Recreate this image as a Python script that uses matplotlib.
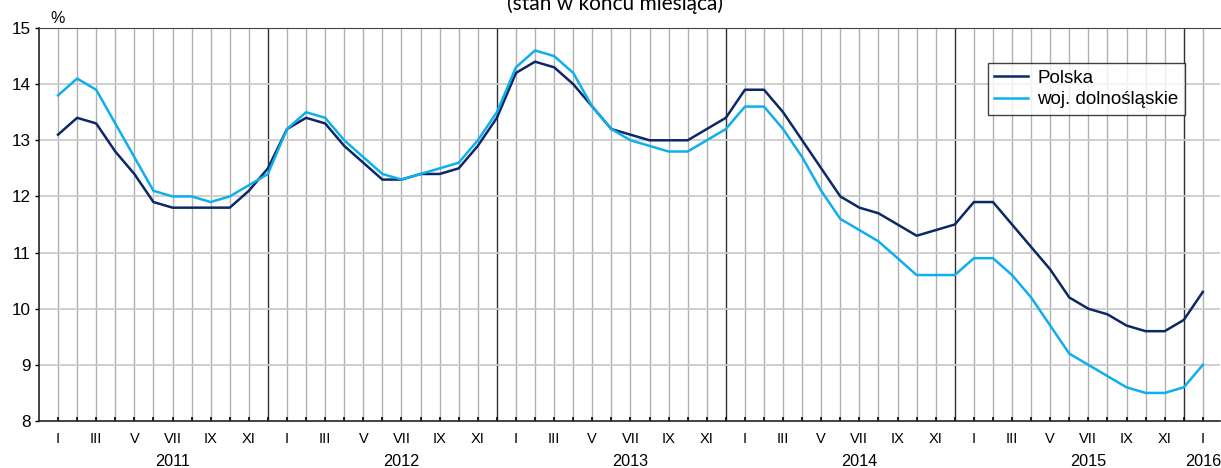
import numpy as np
import matplotlib.pyplot as plt
from matplotlib.transforms import blended_transform_factory

plt.rcParams['font.family'] = ['Liberation Sans', 'DejaVu Sans']

# monthly values, I 2011 - I 2016
polska = [13.1, 13.4, 13.3, 12.8, 12.4, 11.9, 11.8, 11.8, 11.8, 11.8, 12.1, 12.5,
          13.2, 13.4, 13.3, 12.9, 12.6, 12.3, 12.3, 12.4, 12.4, 12.5, 12.9, 13.4,
          14.2, 14.4, 14.3, 14.0, 13.6, 13.2, 13.1, 13.0, 13.0, 13.0, 13.2, 13.4,
          13.9, 13.9, 13.5, 13.0, 12.5, 12.0, 11.8, 11.7, 11.5, 11.3, 11.4, 11.5,
          11.9, 11.9, 11.5, 11.1, 10.7, 10.2, 10.0, 9.9, 9.7, 9.6, 9.6, 9.8,
          10.3]
dolnoslaskie = [13.8, 14.1, 13.9, 13.3, 12.7, 12.1, 12.0, 12.0, 11.9, 12.0, 12.2, 12.4,
                13.2, 13.5, 13.4, 13.0, 12.7, 12.4, 12.3, 12.4, 12.5, 12.6, 13.0, 13.5,
                14.3, 14.6, 14.5, 14.2, 13.6, 13.2, 13.0, 12.9, 12.8, 12.8, 13.0, 13.2,
                13.6, 13.6, 13.2, 12.7, 12.1, 11.6, 11.4, 11.2, 10.9, 10.6, 10.6, 10.6,
                10.9, 10.9, 10.6, 10.2, 9.7, 9.2, 9.0, 8.8, 8.6, 8.5, 8.5, 8.6,
                9.0]
months = ['I', '', 'III', '', 'V', '', 'VII', '', 'IX', '', 'XI', '']
years = ['2011', '2012', '2013', '2014', '2015', '2016']

x = np.arange(len(polska))
tick_labels = (months * 5 + ['I'])

fig = plt.figure(figsize=(12.21, 4.68), dpi=100)
ax = fig.add_axes([0.0319, 0.1004, 0.9673, 0.8398])

# grid
for i in x:
    if i % 12 == 11:
        ax.axvline(i, color='#303030', lw=1.0, zorder=1)
    else:
        ax.axvline(i, color='#b0b0b0', lw=1.0, zorder=1)
for v in range(9, 15):
    ax.axhline(v, color='#cccccc', lw=1.3, zorder=1)

ax.plot(x, polska, color='#0c2865', lw=1.8, label='Polska', zorder=3)
ax.plot(x, dolnoslaskie, color='#0db0ec', lw=1.8, label='woj. dolnośląskie', zorder=3)

ax.set_xlim(-1, 60.9)
ax.set_ylim(8, 15)
ax.set_xticks(x)
ax.set_xticklabels(tick_labels, fontsize=10.5)
ax.set_yticks(range(8, 16))
ax.tick_params(axis='y', labelsize=12.3, length=3, width=1, pad=3)
ax.tick_params(axis='x', direction='in', length=3, width=1.2, pad=8)
for s in ['left', 'bottom']:
    ax.spines[s].set_linewidth(1.2)
    ax.spines[s].set_color('#222222')
ax.spines['top'].set_color('#444444')
ax.spines['right'].set_visible(False)

trans = blended_transform_factory(ax.transData, ax.transAxes)
for k, yr in enumerate(years):
    ax.text(6 + 12 * k if k < 5 else 60, -0.102, yr, transform=trans,
            ha='center', va='center', fontsize=11.7)

ax.text(0, 1.025, '%', transform=trans, ha='center', va='center', fontsize=11.5)
fig.text(615 / 1221, 1 - 10 / 468, '(stan w końcu miesiąca)', ha='center', va='baseline',
         fontsize=15, family=['Lato', 'DejaVu Sans'])

leg = ax.legend(loc='upper right', bbox_to_anchor=(0.9704, 0.91), fontsize=13.5,
                frameon=True, fancybox=False, handlelength=1.8, borderpad=0.35,
                labelspacing=0.22, handletextpad=0.5, borderaxespad=0)
leg.get_frame().set_edgecolor('#111111')
leg.get_frame().set_linewidth(1.0)

fig.savefig('out.png', dpi=100)
